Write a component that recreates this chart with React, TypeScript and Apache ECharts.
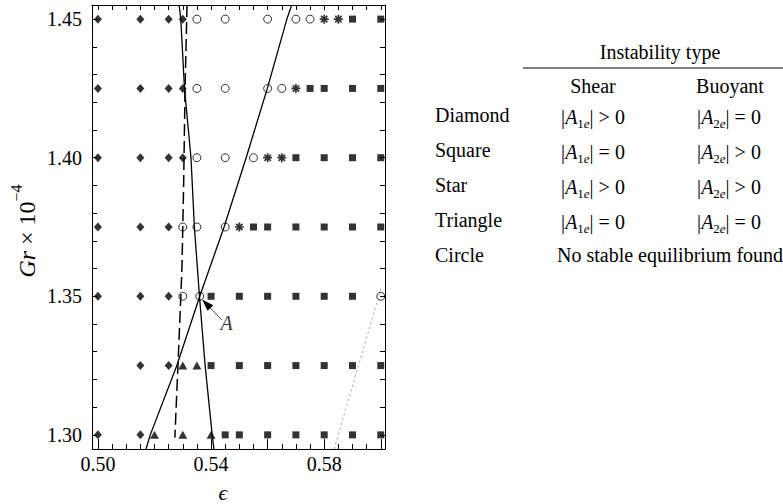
import React, { useEffect, useRef } from 'react';
import * as echarts from 'echarts';

const FF = '"Liberation Serif","Times New Roman",serif';

// ---- data (epsilon, Gr x 1e-4) ----
const diamondPts = [
  [0.5, 1.45], [0.515, 1.45], [0.525, 1.45], [0.53, 1.45],
  [0.5, 1.425], [0.515, 1.425], [0.525, 1.425], [0.53, 1.425],
  [0.5, 1.4], [0.515, 1.4], [0.525, 1.4], [0.53, 1.4],
  [0.5, 1.375], [0.515, 1.375], [0.525, 1.375],
  [0.5, 1.35], [0.515, 1.35], [0.525, 1.35],
  [0.515, 1.325], [0.525, 1.325],
  [0.5, 1.3], [0.515, 1.3],
];
const circlePts = [
  [0.535, 1.45], [0.545, 1.45], [0.56, 1.45], [0.57, 1.45], [0.575, 1.45],
  [0.535, 1.425], [0.545, 1.425], [0.56, 1.425], [0.565, 1.425],
  [0.535, 1.4], [0.545, 1.4], [0.555, 1.4],
  [0.53, 1.375], [0.535, 1.375], [0.545, 1.375],
  [0.53, 1.35], [0.536, 1.35], [0.6, 1.35],
];
const starPts = [
  [0.58, 1.45], [0.585, 1.45],
  [0.57, 1.425],
  [0.56, 1.4], [0.565, 1.4],
  [0.55, 1.375],
];
const squarePts = [
  [0.59, 1.45], [0.6, 1.45],
  [0.575, 1.425], [0.58, 1.425], [0.59, 1.425], [0.6, 1.425],
  [0.57, 1.4], [0.58, 1.4], [0.59, 1.4], [0.6, 1.4],
  [0.555, 1.375], [0.56, 1.375], [0.57, 1.375], [0.58, 1.375], [0.59, 1.375], [0.6, 1.375],
  [0.54, 1.35], [0.55, 1.35], [0.56, 1.35], [0.57, 1.35], [0.58, 1.35], [0.59, 1.35],
  [0.54, 1.325], [0.55, 1.325], [0.56, 1.325], [0.57, 1.325], [0.58, 1.325], [0.59, 1.325], [0.6, 1.325],
  [0.545, 1.3], [0.55, 1.3], [0.56, 1.3], [0.57, 1.3], [0.58, 1.3], [0.59, 1.3], [0.6, 1.3],
];
const trianglePts = [
  [0.53, 1.325], [0.535, 1.325],
  [0.52, 1.3], [0.53, 1.3], [0.54, 1.3],
];

// boundary curves
const risingLine = [
  [0.517, 1.2949], [0.5185, 1.3], [0.5279, 1.325], [0.536, 1.35], [0.5446, 1.375],
  [0.5524, 1.4], [0.5599, 1.425], [0.5668, 1.45], [0.5685, 1.4551],
];
const steepLine = [
  [0.5287, 1.4551], [0.5293, 1.45], [0.5306, 1.425], [0.5329, 1.4], [0.5341, 1.375],
  [0.5359, 1.35], [0.5379, 1.325], [0.5404, 1.3], [0.541, 1.2949],
];
const dashedLine = [
  [0.5315, 1.4551], [0.5308, 1.425], [0.5303, 1.39], [0.5297, 1.36], [0.5285, 1.33], [0.5272, 1.299],
];
const dottedLine = [[0.5835, 1.2949], [0.6003, 1.3535]];

const pointA = [[0.5455, 1.3402]];
const arrowFrom = [0.5438, 1.3415];
const arrowTo = [0.5383, 1.3473];

// axes
const X_MIN = 0.4979;
const X_MAX = 0.6015;
const Y_MIN = 1.2949;
const Y_MAX = 1.4551;
const xLabelTicks = [0.5, 0.54, 0.58];
const xMajorTicks = [0.5, 0.54, 0.56, 0.58, 0.6];
const yLabelTicks = [1.3, 1.35, 1.4, 1.45];

const range = (a: number, b: number, step: number) => {
  const out: number[] = [];
  const n = Math.round((b - a) / step);
  for (let i = 0; i <= n; i++) out.push(+(a + i * step).toFixed(4));
  return out;
};
const xMinorTicks = range(0.5, 0.6, 0.005);
const yMinorTicks = range(1.3, 1.45, 0.01);

// table
const tableTitle = 'Instability type';
const colHeads = ['Shear', 'Buoyant'];
const rowLabels = ['Diamond', 'Square', 'Star', 'Triangle', 'Circle'];
const shearOps = ['>', '=', '>', '='];
const buoyOps = ['=', '>', '>', '='];
const circleNote = 'No stable equilibrium found';

function starPath() {
  const L = 10, w = 1.9;
  let d = '';
  [0, 45, 90, 135].forEach((deg) => {
    const a = (deg * Math.PI) / 180;
    const c = Math.cos(a), s = Math.sin(a);
    const pts = [[-L, -w], [L, -w], [L, w], [-L, w]].map(([px, py]) => [px * c - py * s + 10, px * s + py * c + 10]);
    d += 'M' + pts.map((p) => p[0].toFixed(3) + ' ' + p[1].toFixed(3)).join(' L') + ' Z ';
  });
  return 'path://' + d.trim();
}

const tok = (size: number, italic: boolean, lh: number, pad?: number[]) => ({
  fontSize: size, fontFamily: FF, fontStyle: italic ? 'italic' : 'normal', lineHeight: lh,
  verticalAlign: 'top', fill: '#000', color: '#000', ...(pad ? { padding: pad } : {}),
});
const cellRich = {
  n: tok(20, false, 20),
  i: tok(20, true, 20),
  s: tok(13, false, 13, [10, 0, 0, 0]),
  si: tok(13, true, 13, [10, 0, 0, 0]),
};

export default function App() {
  const ref = useRef<HTMLDivElement>(null);
  useEffect(() => {
    if (!ref.current) return;
    const chart = echarts.init(ref.current, null, { renderer: 'svg' });

    const baselines = [122, 157, 192, 227, 262];
    const plain = (text: string, x: number, baseline: number, align: string) => ({
      type: 'text', x, y: baseline - 6.75, silent: true,
      style: { text, fontSize: 20, fontFamily: FF, fill: '#000', align, verticalAlign: 'middle' },
    });
    const cell = (idx: string, op: string, x: number, baseline: number) => ({
      type: 'text', x, y: baseline - 5.25, silent: true,
      style: {
        text: `{n||}{i|A}{s|${idx}}{si|e}{n|| ${op} 0}`,
        fill: '#000', align: 'center', verticalAlign: 'middle', rich: cellRich,
      },
    });

    const graphic: any[] = [
      plain(tableTitle, 660, 59, 'center'),
      { type: 'line', silent: true, shape: { x1: 523, y1: 68, x2: 783, y2: 68 }, style: { stroke: '#000', lineWidth: 1 } },
      plain(colHeads[0], 593, 93, 'center'),
      plain(colHeads[1], 730, 93, 'center'),
    ];
    rowLabels.forEach((lab, i) => graphic.push(plain(lab, 435, baselines[i], 'left')));
    shearOps.forEach((op, i) => graphic.push(cell('1', op, 593, baselines[i])));
    buoyOps.forEach((op, i) => graphic.push(cell('2', op, 729, baselines[i])));
    graphic.push(plain(circleNote, 557, baselines[4], 'left'));
    graphic.push({
      type: 'text', x: 20, y: 231, rotation: Math.PI / 2, silent: true,
      style: {
        text: '{i|Gr}{n| \u00d7 10}{p|\u22124}', fill: '#000',
        align: 'center', verticalAlign: 'middle',
        rich: { i: tok(24, true, 24, [7, 0, 0, 0]), n: tok(24, false, 24, [7, 0, 0, 0]), p: tok(16, false, 16) },
      },
    });
    graphic.push({
      type: 'text', x: 223, y: 492, silent: true,
      style: { text: '\u03f5', fontSize: 22, fontFamily: FF, fontStyle: 'italic', fill: '#000', align: 'center', verticalAlign: 'middle' },
    });

    const axisLine = { show: true, onZero: false, lineStyle: { color: '#000', width: 1 } };
    const labelStyle = { color: '#000', fontSize: 20, fontFamily: FF };
    const tickStyle = { color: '#000', width: 1 };
    const baseX = { type: 'value', min: X_MIN, max: X_MAX, splitLine: { show: false }, axisLine };
    const baseY = { type: 'value', min: Y_MIN, max: Y_MAX, splitLine: { show: false }, axisLine };

    const lineSeries = (data: number[][], lineStyle: any) => ({
      type: 'line', data, showSymbol: false, symbol: 'none', silent: true, z: 2,
      lineStyle, xAxisIndex: 0, yAxisIndex: 0,
    });
    const scatter = (data: number[][], symbol: string, symbolSize: any, itemStyle: any) => ({
      type: 'scatter', data, symbol, symbolSize, itemStyle, silent: true, z: 3,
      xAxisIndex: 0, yAxisIndex: 0,
    });

    const option: any = {
      animation: false,
      backgroundColor: '#ffffff',
      grid: { left: 92, right: 398, top: 5, bottom: 55, outerBoundsMode: 'none' },
      xAxis: [
        {
          ...baseX, position: 'bottom',
          axisTick: { show: true, inside: true, length: 10, customValues: xMajorTicks, lineStyle: tickStyle },
          axisLabel: { show: true, customValues: xLabelTicks, formatter: (v: number) => v.toFixed(2), margin: 5, ...labelStyle },
        },
        {
          ...baseX, position: 'bottom', axisLine: { show: false },
          axisTick: { show: true, inside: true, length: 5, customValues: xMinorTicks, lineStyle: tickStyle },
          axisLabel: { show: false },
        },
        {
          ...baseX, position: 'top',
          axisTick: { show: true, inside: true, length: 5, customValues: xMinorTicks, lineStyle: tickStyle },
          axisLabel: { show: false },
        },
      ],
      yAxis: [
        {
          ...baseY, position: 'left',
          axisTick: { show: true, inside: true, length: 5, customValues: yMinorTicks, lineStyle: tickStyle },
          axisLabel: { show: true, customValues: yLabelTicks, formatter: (v: number) => v.toFixed(2), margin: 10, ...labelStyle },
        },
        {
          ...baseY, position: 'right',
          axisTick: { show: true, inside: true, length: 5, customValues: yMinorTicks, lineStyle: tickStyle },
          axisLabel: { show: false },
        },
      ],
      graphic,
      series: [
        lineSeries(risingLine, { color: '#000', width: 1.3 }),
        lineSeries(steepLine, { color: '#000', width: 1.3 }),
        lineSeries(dashedLine, { color: '#000', width: 1.5, type: [12, 5] }),
        lineSeries(dottedLine, { color: '#777', width: 0.7, type: [2, 3] }),
        scatter(diamondPts, 'diamond', [8, 9], { color: '#000' }),
        scatter(squarePts, 'rect', 7, { color: '#000' }),
        scatter(trianglePts, 'triangle', [9, 8], { color: '#000' }),
        scatter(starPts, starPath(), 9, { color: '#000' }),
        scatter(circlePts, 'circle', 8, { color: 'rgba(0,0,0,0)', borderColor: '#000', borderWidth: 1 }),
        {
          type: 'scatter', data: pointA, symbol: 'circle', symbolSize: 1, silent: true, z: 4,
          itemStyle: { color: 'rgba(0,0,0,0)' },
          label: { show: true, position: 'inside', formatter: 'A', fontSize: 20, fontFamily: FF, fontStyle: 'italic', color: '#000' },
          markLine: {
            silent: true, animation: false,
            symbol: ['none', 'triangle'], symbolSize: [8, 12],
            label: { show: false },
            lineStyle: { color: '#000', width: 0.7, type: 'solid', opacity: 1 },
            data: [[{ coord: arrowFrom }, { coord: arrowTo }]],
          },
        },
      ],
    };
    chart.setOption(option);
    return () => chart.dispose();
  }, []);
  return <div ref={ref} style={{ position: 'fixed', left: 0, top: 0, width: 783, height: 504 }} />;
}
